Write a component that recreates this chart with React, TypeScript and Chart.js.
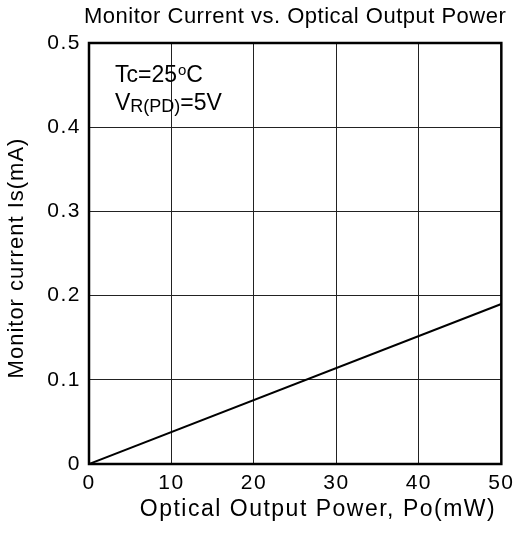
import React, { useEffect, useRef } from "react";
import { Chart, registerables } from "chart.js";

Chart.register(...registerables);

const powerMw = [0, 50];
const currentMa = [0, 0.19];
const xTickValues = [0, 10, 20, 30, 40, 50];
const yTickValues = [0, 0.1, 0.2, 0.3, 0.4, 0.5];
const chartTitle = "Monitor Current vs. Optical Output Power";
const xTitle = "Optical Output Power, Po(mW)";
const yTitle = "Monitor current Is(mA)";

const FONT = '"Liberation Sans", Arial, sans-serif';

const spacingPlugin = {
  id: "spacing",
  beforeDraw(chart: any) {
    chart.ctx.letterSpacing = "1.5px";
  },
};

const framePlugin = {
  id: "frameAndText",
  afterDraw(chart: any) {
    const { ctx, chartArea } = chart;
    const { left, right, top, bottom } = chartArea;
    ctx.save();
    ctx.strokeStyle = "#000";
    ctx.lineWidth = 2.5;
    ctx.strokeRect(left, top, right - left, bottom - top);

    ctx.fillStyle = "#000";
    ctx.textBaseline = "alphabetic";
    ctx.textAlign = "center";
    ctx.letterSpacing = "0.5px";
    ctx.font = `22px ${FONT}`;
    ctx.fillText(chartTitle, (left + right) / 2, 23);

    // x axis title
    ctx.textBaseline = "middle";
    ctx.letterSpacing = "1.5px";
    ctx.font = `23px ${FONT}`;
    ctx.fillText(xTitle, 318, 510);

    // y axis title
    ctx.save();
    ctx.translate(17, 258);
    ctx.rotate(-Math.PI / 2);
    ctx.letterSpacing = "1px";
    ctx.font = `22px ${FONT}`;
    ctx.fillText(yTitle, 0, 0);
    ctx.restore();

    // annotation
    ctx.textBaseline = "alphabetic";
    ctx.letterSpacing = "0px";
    ctx.textAlign = "left";
    let x = 115;
    const y1 = 82;
    ctx.font = `23px ${FONT}`;
    ctx.fillText("Tc=25", x, y1);
    x += ctx.measureText("Tc=25").width;
    ctx.font = `15px ${FONT}`;
    ctx.fillText("o", x + 1, y1 - 7);
    x += ctx.measureText("o").width + 1;
    ctx.font = `23px ${FONT}`;
    ctx.fillText("C", x, y1);

    x = 115;
    const y2 = 110;
    ctx.fillText("V", x, y2);
    x += ctx.measureText("V").width;
    ctx.font = `18px ${FONT}`;
    ctx.fillText("R(PD)", x, y2 + 2);
    x += ctx.measureText("R(PD)").width;
    ctx.font = `23px ${FONT}`;
    ctx.fillText("=5V", x, y2);
    ctx.restore();
  },
};

export default function App() {
  const ref = useRef<HTMLCanvasElement | null>(null);
  useEffect(() => {
    if (!ref.current) return;
    const chart = new Chart(ref.current, {
      type: "line",
      data: {
        datasets: [
          {
            data: powerMw.map((p, i) => ({ x: p, y: currentMa[i] })),
            borderColor: "#000",
            borderWidth: 2,
            pointRadius: 0,
            fill: false,
          },
        ],
      },
      options: {
        animation: false,
        responsive: false,
        maintainAspectRatio: false,
        layout: { padding: { top: 43, right: 13, left: 0, bottom: 0 } },
        plugins: {
          legend: { display: false },
          title: { display: false },
          tooltip: { enabled: false },
        },
        scales: {
          x: {
            type: "linear",
            min: 0,
            max: 50,
            afterBuildTicks: (s: any) => {
              s.ticks = xTickValues.map((v) => ({ value: v }));
            },
            afterFit: (s: any) => {
              s.height = 71;
            },
            ticks: {
              color: "#000",
              font: { family: FONT, size: 21 },
              padding: 7,
              maxRotation: 0,
              callback: (v: any) => String(v),
            },
            grid: { color: "#222", lineWidth: 1, drawTicks: false },
            border: { display: false },
            title: { display: false },
          },
          y: {
            type: "linear",
            min: 0,
            max: 0.5,
            afterBuildTicks: (s: any) => {
              s.ticks = yTickValues.map((v) => ({ value: v }));
            },
            afterFit: (s: any) => {
              s.width = 89;
            },
            ticks: {
              color: "#000",
              font: { family: FONT, size: 21 },
              padding: 8,
              callback: (v: any) => (v === 0 ? "0" : Number(v).toFixed(1)),
            },
            grid: { color: "#222", lineWidth: 1, drawTicks: false },
            border: { display: false },
            title: { display: false },
          },
        },
      },
      plugins: [spacingPlugin, framePlugin],
    });
    return () => chart.destroy();
  }, []);
  return (
    <div style={{ position: "absolute", left: 0, top: 0, width: 520, height: 535, background: "#fff" }}>
      <canvas ref={ref} width={520} height={535} style={{ width: 520, height: 535 }} />
    </div>
  );
}
